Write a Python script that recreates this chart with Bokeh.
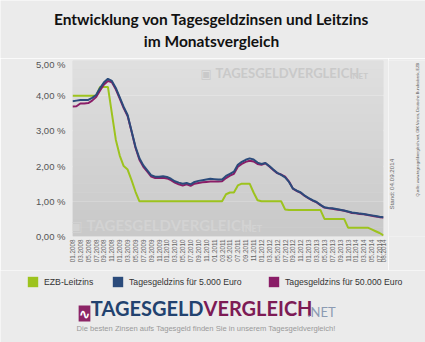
import math
from bokeh.plotting import figure
from bokeh.layouts import column, row
from bokeh.models import Range1d, FixedTicker, Label, Legend, LegendItem, BoxAnnotation
from bokeh.embed import file_html
from bokeh.resources import INLINE

# ---------------- data ----------------
months = [
    "01.2008", "02.2008", "03.2008", "04.2008", "05.2008", "06.2008", "07.2008", "08.2008", "09.2008", "10.2008", "11.2008", "12.2008",
    "01.2009", "02.2009", "03.2009", "04.2009", "05.2009", "06.2009", "07.2009", "08.2009", "09.2009", "10.2009", "11.2009", "12.2009",
    "01.2010", "02.2010", "03.2010", "04.2010", "05.2010", "06.2010", "07.2010", "08.2010", "09.2010", "10.2010", "11.2010", "12.2010",
    "01.2011", "02.2011", "03.2011", "04.2011", "05.2011", "06.2011", "07.2011", "08.2011", "09.2011", "10.2011", "11.2011", "12.2011",
    "01.2012", "02.2012", "03.2012", "04.2012", "05.2012", "06.2012", "07.2012", "08.2012", "09.2012", "10.2012", "11.2012", "12.2012",
    "01.2013", "02.2013", "03.2013", "04.2013", "05.2013", "06.2013", "07.2013", "08.2013", "09.2013", "10.2013", "11.2013", "12.2013",
    "01.2014", "02.2014", "03.2014", "04.2014", "05.2014", "06.2014", "07.2014", "08.2014",
]

ezb_leitzins = [
    4.00, 4.00, 4.00, 4.00, 4.00, 4.00, 4.00, 4.25, 4.25, 4.25, 3.50, 2.75,
    2.30, 2.00, 1.90, 1.60, 1.27, 1.00, 1.00, 1.00, 1.00, 1.00, 1.00, 1.00,
    1.00, 1.00, 1.00, 1.00, 1.00, 1.00, 1.00, 1.00, 1.00, 1.00, 1.00, 1.00,
    1.00, 1.00, 1.00, 1.20, 1.25, 1.25, 1.45, 1.50, 1.50, 1.50, 1.25, 1.03,
    1.00, 1.00, 1.00, 1.00, 1.00, 1.00, 0.77, 0.75, 0.75, 0.75, 0.75, 0.75,
    0.75, 0.75, 0.75, 0.75, 0.50, 0.50, 0.50, 0.50, 0.50, 0.50, 0.25, 0.25,
    0.25, 0.25, 0.25, 0.25, 0.20, 0.15, 0.10, 0.03,
]

zins_5000 = [
    3.84, 3.86, 3.88, 3.88, 3.88, 3.94, 4.02, 4.22, 4.38, 4.48, 4.42, 4.22,
    3.95, 3.68, 3.45, 3.00, 2.55, 2.22, 2.02, 1.88, 1.74, 1.70, 1.70, 1.71,
    1.69, 1.64, 1.57, 1.53, 1.50, 1.52, 1.48, 1.55, 1.58, 1.60, 1.62, 1.64,
    1.63, 1.62, 1.62, 1.72, 1.78, 1.84, 2.04, 2.12, 2.18, 2.22, 2.19, 2.10,
    2.06, 2.09, 2.00, 1.90, 1.81, 1.75, 1.68, 1.55, 1.36, 1.30, 1.25, 1.16,
    1.09, 1.03, 0.98, 0.90, 0.83, 0.81, 0.80, 0.78, 0.76, 0.74, 0.71, 0.68,
    0.67, 0.65, 0.64, 0.62, 0.60, 0.58, 0.56, 0.55,
]

zins_50000 = [
    3.69, 3.70, 3.78, 3.78, 3.79, 3.86, 3.96, 4.15, 4.32, 4.42, 4.38, 4.18,
    3.92, 3.65, 3.42, 2.98, 2.52, 2.18, 1.98, 1.84, 1.70, 1.66, 1.66, 1.67,
    1.65, 1.60, 1.53, 1.48, 1.45, 1.48, 1.44, 1.50, 1.52, 1.54, 1.55, 1.56,
    1.56, 1.56, 1.57, 1.66, 1.73, 1.78, 1.98, 2.06, 2.12, 2.15, 2.13, 2.06,
    2.04, 2.08, 1.99, 1.89, 1.80, 1.76, 1.70, 1.56, 1.36, 1.29, 1.24, 1.15,
    1.08, 1.02, 0.97, 0.89, 0.82, 0.80, 0.79, 0.77, 0.75, 0.73, 0.70, 0.67,
    0.66, 0.64, 0.63, 0.61, 0.59, 0.57, 0.55, 0.54,
]

x_tick_labels = [
    "01.2008", "03.2008", "05.2008", "07.2008", "09.2008", "11.2008",
    "01.2009", "03.2009", "05.2009", "07.2009", "09.2009", "11.2009",
    "01.2010", "03.2010", "05.2010", "07.2010", "09.2010", "11.2010",
    "01.2011", "03.2011", "05.2011", "07.2011", "09.2011", "11.2011",
    "01.2012", "03.2012", "05.2012", "07.2012", "09.2012", "11.2012",
    "01.2013", "03.2013", "05.2013", "07.2013", "09.2013", "11.2013",
    "01.2014", "03.2014", "05.2014", "07.2014", "08.2014",
]

y_ticks = [0, 1, 2, 3, 4, 5]
y_tick_labels = ["0,00 %", "1,00 %", "2,00 %", "3,00 %", "4,00 %", "5,00 %"]

series_names = ["EZB-Leitzins", "Tagesgeldzins für 5.000 Euro", "Tagesgeldzins für 50.000 Euro"]
series_colors = ["#9dc31e", "#2b4b7b", "#8a1d67"]

# ---------------- layout geometry (canvas pixels) ----------------
W, H = 425, 342
TOP_H = 58            # title strip
MID_H = 212           # main chart strip (y 58..270)
BOT_H = H - TOP_H - MID_H
MAIN_W = 388
SIDE_W = W - MAIN_W
FL, FR, FT, FB = 72, 383, 60, 236   # frame edges of the chart, canvas pixels
BG = "#ebebeb"


def blank(w, h):
    f = figure(width=w, height=h, x_range=Range1d(0, w), y_range=Range1d(0, h),
               output_backend="svg", toolbar_location=None,
               x_axis_type=None, y_axis_type=None,
               min_border=0, min_border_left=0, min_border_right=0,
               min_border_top=0, min_border_bottom=0)
    f.border_fill_color = BG
    f.background_fill_color = BG
    f.outline_line_color = None
    f.grid.visible = False
    return f


def put(fig, ox, oy, h, X, Y, text, **kw):
    """Label placed by canvas position (top-left origin) inside a figure whose
    frame starts at canvas (ox, oy) and is h pixels tall."""
    l = Label(x=X - ox, y=(oy + h) - Y, x_units="screen", y_units="screen", text=text, **kw)
    fig.add_layout(l)
    return l


# ---------------- title strip ----------------
top = blank(W, TOP_H)
title_font = "Lato"
put(top, 0, 0, TOP_H, 211, 27, "Entwicklung von Tagesgeldzinsen und Leitzins", text_font=title_font,
    text_font_style="bold", text_font_size="15.5px", text_color="#111111", text_align="center")
put(top, 0, 0, TOP_H, 211, 49, "im Monatsvergleich", text_font=title_font,
    text_font_style="bold", text_font_size="15.5px", text_color="#111111", text_align="center")

# ---------------- main chart ----------------
x = list(range(len(months)))
p = figure(width=MAIN_W, height=MID_H, x_range=Range1d(0, len(months) - 1), y_range=Range1d(0, 5),
           output_backend="svg", toolbar_location=None,
           min_border_left=FL, min_border_right=MAIN_W - FR,
           min_border_top=FT - TOP_H, min_border_bottom=TOP_H + MID_H - FB)
p.border_fill_color = BG
p.background_fill_color = "#d6d6d6"
p.outline_line_color = None

# soft vertical gradient of the plotting area (decoration)
n_bands = 20
for k in range(n_bands):
    t = k / (n_bands - 1)
    g = int(round(0xc9 + (0xdf - 0xc9) * t))
    p.add_layout(BoxAnnotation(bottom=5 * k / n_bands, top=5 * (k + 1) / n_bands,
                               fill_color=f"#{g:02x}{g:02x}{g:02x}", fill_alpha=1,
                               line_color=None, level="underlay"))

p.xgrid.visible = False
p.ygrid.ticker = FixedTicker(ticks=y_ticks[1:-1])
p.ygrid.grid_line_color = "white"
p.ygrid.grid_line_width = 1.5
p.ygrid.level = "underlay"

yax = p.yaxis[0]
yax.ticker = FixedTicker(ticks=y_ticks)
yax.major_label_overrides = {t: l for t, l in zip(y_ticks, y_tick_labels)}
yax.axis_line_color = None
yax.major_tick_line_color = None
yax.minor_tick_line_color = None
yax.major_tick_out = 0
yax.major_tick_in = 0
yax.major_label_standoff = 7
yax.major_label_text_font = "Liberation Sans"
yax.major_label_text_font_size = "9.5px"
yax.major_label_text_color = "#555555"

xax = p.xaxis[0]
tick_pos = [months.index(l) for l in x_tick_labels]
xax.ticker = FixedTicker(ticks=tick_pos)
xax.major_label_overrides = {t: l for t, l in zip(tick_pos, x_tick_labels)}
xax.major_label_orientation = math.pi / 2
xax.axis_line_color = None
xax.major_tick_line_color = None
xax.minor_tick_line_color = None
xax.major_tick_out = 0
xax.major_tick_in = 0
xax.major_label_standoff = 3
xax.major_label_text_font = "Liberation Sans"
xax.major_label_text_font_size = "6.3px"
xax.major_label_text_color = "#666666"

# watermarks (drawn under the lines)
def wmark(X, Y, size, color, net_x, net_size, icon_size):
    kw = dict(x_units="screen", y_units="screen", level="underlay", text_color=color)
    p.add_layout(Label(x=X - icon_size - 3 - FL, y=FB - Y, text="▣", text_font="DejaVu Sans",
                       text_font_size=f"{icon_size}px", **kw))
    p.add_layout(Label(x=X - FL, y=FB - Y, text="TAGESGELDVERGLEICH", text_font="Lato",
                       text_font_style="bold", text_font_size=f"{size}px", **kw))
    p.add_layout(Label(x=net_x - FL, y=FB - Y, text=".NET", text_font="Lato",
                       text_font_style="bold", text_font_size=f"{net_size}px", **kw))

wmark(215, 80, 13, "#c9c9c9", 350, 8, 12)
wmark(86, 233, 15, "#d3d3d3", 242, 9, 14)

p.line(x, ezb_leitzins, line_color=series_colors[0], line_width=2)
p.line(x, zins_50000, line_color=series_colors[2], line_width=2)
p.line(x, zins_5000, line_color=series_colors[1], line_width=2)

# ---------------- side strip ----------------
side = blank(SIDE_W, MID_H)
put(side, MAIN_W, TOP_H, MID_H, 391, 243, "Stand: 04.09.2014", text_font="Liberation Sans",
    text_font_size="6.2px", text_color="#666666", angle=math.pi / 2, text_baseline="middle")
put(side, MAIN_W, TOP_H, MID_H, 417, 230,
    "Quelle: www.tagesgeldvergleich.net, GfK Verein, Deutsche Bundesbank, EZB",
    text_font="Liberation Sans", text_font_size="3.9px", text_color="#555555",
    angle=math.pi / 2, text_baseline="middle")

# ---------------- bottom strip: legend + logo ----------------
bot = blank(W, BOT_H)
OY = TOP_H + MID_H
nan = float("nan")
legend_x = [26, 111, 267]   # left edge of each swatch (canvas px)
for name, color, lx in zip(series_names, series_colors, legend_x):
    sw = bot.quad(left=[nan], right=[nan], top=[nan], bottom=[nan], fill_color=color, line_color=None)
    lg = Legend(items=[LegendItem(label=name, renderers=[sw])],
                orientation="horizontal", location=(lx, H - 288),
                glyph_width=13, glyph_height=13, label_standoff=5,
                padding=0, margin=0, background_fill_alpha=0, border_line_color=None,
                label_text_font="Liberation Sans", label_text_font_size="8.7px",
                label_text_color="#333333", label_height=13)
    bot.add_layout(lg)

put(bot, 0, OY, BOT_H, 84, 313, "∿", text_font="DejaVu Sans", text_font_style="bold",
    text_font_size="14px", text_color="white", background_fill_color="#8c2566",
    text_align="center", text_baseline="middle")
logo_font = "Lato"
put(bot, 0, OY, BOT_H, 203, 319, "TAGESGELD", text_font=logo_font, text_font_style="bold",
    text_font_size="20px", text_color="#22426f", text_align="right")
put(bot, 0, OY, BOT_H, 203, 319, "VERGLEICH", text_font=logo_font, text_font_style="bold",
    text_font_size="20px", text_color="#7d1b55", text_align="left")
put(bot, 0, OY, BOT_H, 307, 319, ".NET", text_font="Lato", text_font_size="13px",
    text_color="#8c9bb3", text_align="left")
put(bot, 0, OY, BOT_H, 76, 332,
    "Die besten Zinsen aufs Tagesgeld finden Sie in unserem Tagesgeldvergleich!",
    text_font="Liberation Sans", text_font_size="7.6px",
    text_color="#9a9a9a", text_align="left")

layout = column(top, row(p, side), bot, spacing=0)
open("out.html", "w").write(file_html(layout, INLINE))
